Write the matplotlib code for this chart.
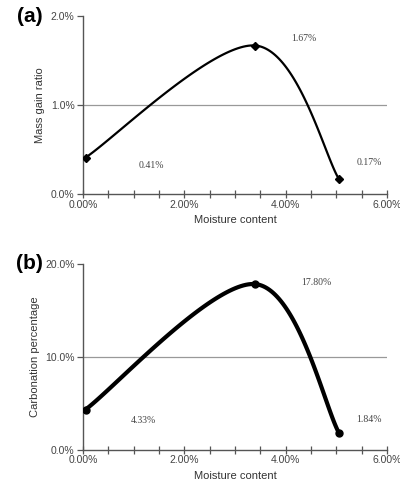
import numpy as np
import matplotlib
matplotlib.use("Agg")
from matplotlib import pyplot as plt
from matplotlib.ticker import MultipleLocator, FuncFormatter

# data
moisture = [0.05, 3.40, 5.05]          # % moisture content
mass_gain = [0.41, 1.67, 0.17]         # % mass gain ratio
carbonation = [4.33, 17.80, 1.84]      # % carbonation percentage
mass_labels = ["0.41%", "1.67%", "0.17%"]
carb_labels = ["4.33%", "17.80%", "1.84%"]

plt.rcParams['font.family'] = ['Liberation Sans', 'DejaVu Sans']


def smooth(ax, xs, ys, n=60):
    # excel-like smoothed line: cubic bezier with catmull-rom tangents, in display space
    pts = ax.transData.transform(np.column_stack([xs, ys]))
    out = []
    m = len(pts)
    for i in range(m - 1):
        p0 = pts[max(i - 1, 0)]
        p1 = pts[i]
        p2 = pts[i + 1]
        p3 = pts[min(i + 2, m - 1)]
        c1 = p1 + (p2 - p0) / 6.0
        c2 = p2 - (p3 - p1) / 6.0
        t = np.linspace(0, 1, n)[:, None]
        seg = ((1 - t) ** 3) * p1 + 3 * ((1 - t) ** 2) * t * c1 + 3 * (1 - t) * t ** 2 * c2 + t ** 3 * p2
        out.append(seg)
    out = np.vstack(out)
    data = ax.transData.inverted().transform(out)
    return data[:, 0], data[:, 1]


def panel(ax, ys, ymax, ystep, ylabel, labels, label_pos, marker, ms, lw, tag):
    ax.set_xlim(0, 6)
    ax.set_ylim(0, ymax)
    for s in ['top', 'right']:
        ax.spines[s].set_visible(False)
    for s in ['left', 'bottom']:
        ax.spines[s].set_color('#555555')
        ax.spines[s].set_linewidth(1.0)
    ax.axhline(ymax / 2, color='#999999', lw=0.9, zorder=1)
    ax.xaxis.set_major_locator(MultipleLocator(2))
    ax.xaxis.set_minor_locator(MultipleLocator(0.5))
    ax.yaxis.set_major_locator(MultipleLocator(ystep))
    ax.xaxis.set_major_formatter(FuncFormatter(lambda v, p: f"{v:.2f}%"))
    ax.yaxis.set_major_formatter(FuncFormatter(lambda v, p: f"{v:.1f}%"))
    ax.tick_params(axis='x', which='both', direction='inout', length=6, width=0.9,
                   colors='#555555', labelsize=7.5, labelcolor='#444444', pad=1)
    ax.tick_params(axis='y', direction='out', length=4, width=0.9,
                   colors='#555555', labelsize=7.5, labelcolor='#444444', pad=2)
    ax.set_xlabel("Moisture content", fontsize=8, color='#333333', labelpad=4)
    ax.set_ylabel(ylabel, fontsize=8, color='#333333', labelpad=4)
    sx, sy = smooth(ax, moisture, ys)
    ax.plot(sx, sy, color='black', lw=lw, zorder=3)
    ax.plot(moisture, ys, linestyle='none', marker=marker, ms=ms, color='black', zorder=4)
    for txt, (px, py) in zip(labels, label_pos):
        ax.text(px, py, txt, fontsize=7, color='#444444', family=['Liberation Serif'],
                ha='center', va='center')
    ax.text(-0.175, 1.0, tag, transform=ax.transAxes, fontsize=15, fontweight='bold',
            ha='center', va='center')


fig = plt.figure(figsize=(4.0, 4.9), dpi=100)
ax1 = fig.add_axes([0.2075, 0.604, 0.76, 0.363])
ax2 = fig.add_axes([0.2075, 0.082, 0.76, 0.38])

panel(ax1, mass_gain, 2.0, 1.0, "Mass gain ratio", mass_labels,
      [(1.35, 0.32), (4.35, 1.75), (5.65, 0.35)], 'D', 4, 1.6, "(a)")
panel(ax2, carbonation, 20.0, 10.0, "Carbonation percentage", carb_labels,
      [(1.2, 3.2), (4.6, 18.0), (5.65, 3.3)], 'o', 5, 3.0, "(b)")

fig.savefig("out.png", dpi=100)
